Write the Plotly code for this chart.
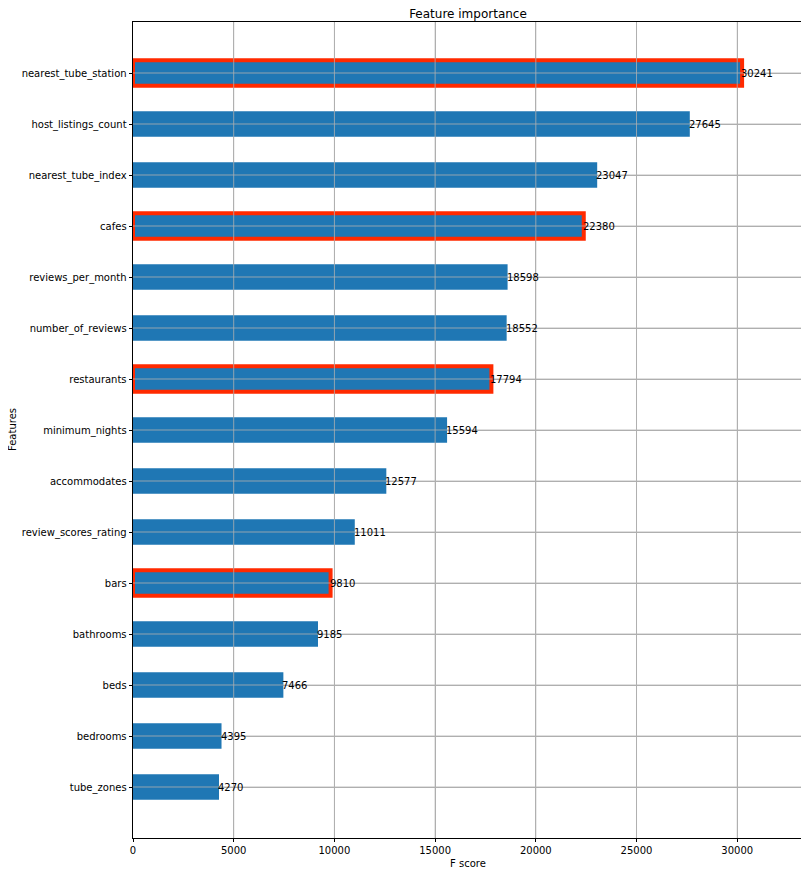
import plotly.graph_objects as go

features = ["tube_zones", "bedrooms", "beds", "bathrooms", "bars", "review_scores_rating",
            "accommodates", "minimum_nights", "restaurants", "number_of_reviews",
            "reviews_per_month", "cafes", "nearest_tube_index", "host_listings_count",
            "nearest_tube_station"]
scores = [4270, 4395, 7466, 9185, 9810, 11011, 12577, 15594, 17794, 18552,
          18598, 22380, 23047, 27645, 30241]
highlighted = ["nearest_tube_station", "cafes", "restaurants", "bars"]
x_ticks = [0, 5000, 10000, 15000, 20000, 25000, 30000]

positions = list(range(len(features)))
line_widths = [4 if f in highlighted else 0 for f in features]
FONT = "DejaVu Sans"
GRID = "#b0b0b0"

fig = go.Figure()
fig.add_trace(go.Bar(
    x=scores, y=positions, orientation="h", width=0.5,
    marker=dict(color="#1f77b4", line=dict(color="#ff2a00", width=line_widths)),
    hoverinfo="x+text", hovertext=features, showlegend=False,
))

# grid lines drawn above the bars, as in matplotlib's output
for t in x_ticks[1:]:
    fig.add_shape(type="line", xref="x", yref="paper", x0=t, x1=t, y0=0, y1=1,
                  line=dict(color=GRID, width=0.8), layer="above")
for p in positions:
    fig.add_shape(type="line", xref="paper", yref="y", x0=0, x1=1, y0=p, y1=p,
                  line=dict(color=GRID, width=0.8), layer="above")

for p, v in zip(positions, scores):
    fig.add_annotation(x=v, y=p, text=str(v), showarrow=False, xanchor="left",
                       yanchor="middle", xshift=-2, borderpad=0,
                       font=dict(family=FONT, size=10, color="black"))

fig.add_annotation(text="F score", xref="paper", yref="paper", x=0.5, y=0,
                   yshift=-25, xanchor="center", yanchor="middle", showarrow=False,
                   font=dict(family=FONT, size=10, color="black"))
fig.add_annotation(text="Features", xref="paper", yref="paper", x=0, y=0.5,
                   xshift=-121, xanchor="center", yanchor="middle", textangle=-90,
                   showarrow=False, font=dict(family=FONT, size=10, color="black"))

axis_common = dict(showline=True, linecolor="black", linewidth=0.8, mirror=True,
                   ticks="outside", ticklen=3.5, tickwidth=0.8, tickcolor="black",
                   showgrid=True, gridcolor=GRID, gridwidth=0.8,
                   zeroline=False, layer="above traces", automargin=False,
                   tickfont=dict(family=FONT, size=10, color="black"))

fig.update_layout(
    width=801, height=868,
    margin=dict(l=125, r=6, t=14, b=38),
    paper_bgcolor="white", plot_bgcolor="white",
    title=dict(text="Feature importance", x=0.5, xref="paper", xanchor="center",
               y=1, yref="paper", yanchor="bottom", pad=dict(b=4),
               font=dict(family=FONT, size=12, color="black")),
    xaxis=dict(range=[0, max(scores) * 1.1], tickvals=x_ticks,
               ticktext=[str(t) for t in x_ticks], **axis_common),
    yaxis=dict(range=[-1, len(features)], tickvals=positions, ticktext=features,
               **axis_common),
    font=dict(family=FONT, size=10, color="black"),
)

fig.write_html("out.html")
